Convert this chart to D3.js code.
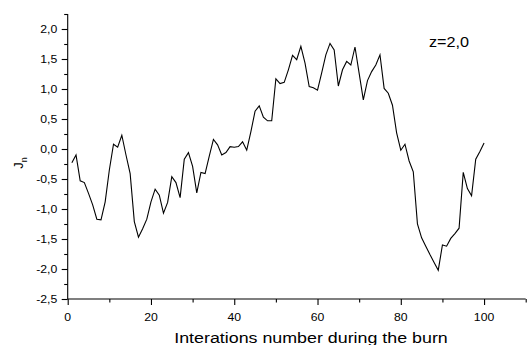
<!DOCTYPE html>
<html>
<head>
<meta charset="utf-8">
<script src="https://cdn.jsdelivr.net/npm/d3@7/dist/d3.min.js"></script>
<style>
  body { margin: 0; background: #fff; }
  text { font-family: "Liberation Sans", Arial, sans-serif; fill: #000; }
</style>
</head>
<body>
<svg id="chart" width="531" height="345"></svg>
<script>
// J_n over the burn iterations (iteration numbers start at 1)
const firstIteration = 1;
const jValues = [
  -0.23, -0.10, -0.53, -0.56, -0.74, -0.93, -1.17, -1.18, -0.88, -0.35,
   0.08,  0.03,  0.23, -0.10, -0.41, -1.21, -1.47, -1.33, -1.17, -0.88,
  -0.67, -0.77, -1.07, -0.89, -0.46, -0.56, -0.81, -0.17, -0.06, -0.29,
  -0.73, -0.39, -0.41, -0.12,  0.16,  0.07, -0.10, -0.06,  0.04,  0.03,
   0.04,  0.12, -0.02,  0.29,  0.63,  0.72,  0.53,  0.47,  0.47,  1.17,
   1.09,  1.11,  1.32,  1.56,  1.49,  1.71,  1.43,  1.04,  1.02,  0.98,
   1.27,  1.57,  1.76,  1.65,  1.05,  1.32,  1.46,  1.40,  1.70,  1.26,
   0.82,  1.14,  1.29,  1.40,  1.57,  1.01,  0.93,  0.73,  0.27, -0.02,
   0.08, -0.20, -0.38, -1.25, -1.48, -1.62, -1.76, -1.89, -2.02, -1.60,
  -1.62, -1.49, -1.41, -1.32, -0.39, -0.66, -0.78, -0.17, -0.04,  0.10
];

// axis ticks
const xMajorTicks = [0, 20, 40, 60, 80, 100];
const xMinorTicks = [10, 30, 50, 70, 90, 110];
const yMajorTicks = [-2.5, -2.0, -1.5, -1.0, -0.5, 0.0, 0.5, 1.0, 1.5, 2.0];
const yMinorTicks = [-2.25, -1.75, -1.25, -0.75, -0.25, 0.25, 0.75, 1.25, 1.75, 2.25];
const xDomain = [0, 110];
const yDomain = [-2.5, 2.25];

const xTitle = "Interations number during the burn";
const yTitleMain = "J";
const yTitleSub = "n";
const annotation = "z=2,0";

const svg = d3.select("#chart");
const plot = { left: 67.7, right: 525.7, top: 14, bottom: 299 };

const x = d3.scaleLinear().domain(xDomain).range([plot.left, plot.right]);
const y = d3.scaleLinear().domain(yDomain).range([plot.bottom, plot.top]);

const comma = d => d3.format(".1f")(d).replace(".", ",").replace("−", "-");

// glyphs in this figure are drawn slightly wide
const tickStretch = 1.2;

// bottom axis: minor then major ticks
const gx = svg.append("g").attr("transform", `translate(0,${plot.bottom})`)
  .call(d3.axisBottom(x).tickValues(xMinorTicks).tickSize(3.5).tickFormat(""));
gx.select(".domain").remove();
const gxMaj = svg.append("g").attr("transform", `translate(0,${plot.bottom})`)
  .call(d3.axisBottom(x).tickValues(xMajorTicks).tickSize(6).tickFormat(""));
gxMaj.select(".domain").attr("d", `M${plot.left},0H${plot.right}`);

// left axis: minor then major ticks
const gy = svg.append("g").attr("transform", `translate(${plot.left},0)`)
  .call(d3.axisLeft(y).tickValues(yMinorTicks).tickSize(3.5).tickFormat(""));
gy.select(".domain").remove();
const gyMaj = svg.append("g").attr("transform", `translate(${plot.left},0)`)
  .call(d3.axisLeft(y).tickValues(yMajorTicks).tickSize(6).tickFormat(""));
gyMaj.select(".domain").attr("d", `M0,${plot.bottom}V${plot.top}`);

svg.selectAll(".domain, .tick line").attr("stroke", "#000").attr("stroke-width", 1.1);

// tick labels
svg.append("g").selectAll("text").data(xMajorTicks).join("text")
  .attr("transform", d => `translate(${x(d)},${plot.bottom + 21.5}) scale(${tickStretch},1)`)
  .attr("text-anchor", "middle")
  .style("font-size", "10.2px")
  .text(d => d);

svg.append("g").selectAll("text").data(yMajorTicks).join("text")
  .attr("transform", d => `translate(${plot.left - 10.5},${y(d) + 3.6}) scale(${tickStretch},1)`)
  .attr("text-anchor", "end")
  .style("font-size", "10.2px")
  .text(comma);

// axis titles
svg.append("text")
  .attr("transform", `translate(311,343) scale(1.19,1)`)
  .attr("text-anchor", "middle")
  .style("font-size", "15px")
  .text(xTitle);

const yt = svg.append("text")
  .attr("transform", `translate(23,163) rotate(-90)`)
  .attr("text-anchor", "middle")
  .style("font-size", "13px");
yt.append("tspan").text(yTitleMain);
yt.append("tspan").attr("dy", 4).style("font-size", "9px").text(yTitleSub);

// annotation
svg.append("text")
  .attr("transform", `translate(429,47) scale(1.08,1)`)
  .style("font-size", "15px")
  .text(annotation);

// data line
const line = d3.line()
  .x((d, i) => x(firstIteration + i))
  .y(d => y(d));

svg.append("path")
  .datum(jValues)
  .attr("d", line)
  .attr("fill", "none")
  .attr("stroke", "#000")
  .attr("stroke-width", 1.1)
  .attr("stroke-linejoin", "miter");
</script>
</body>
</html>
